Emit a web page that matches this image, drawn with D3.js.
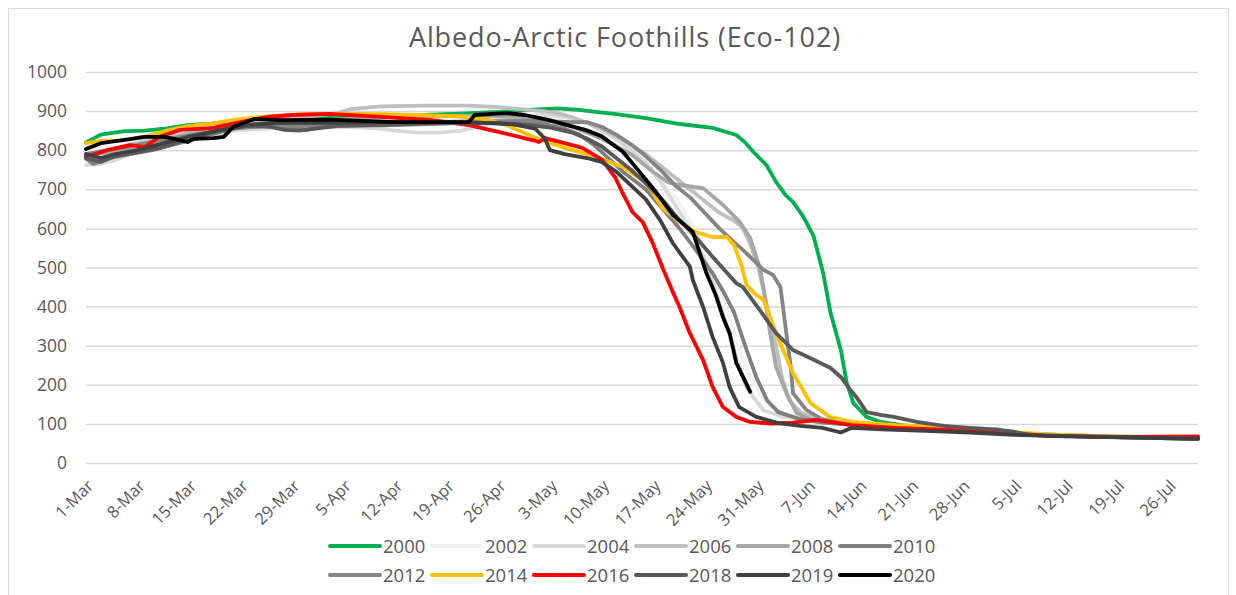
<!DOCTYPE html>
<html>
<head>
<meta charset="utf-8">
<script src="https://cdn.jsdelivr.net/npm/d3@7"></script>
<style>
  body { margin: 0; background: #fff; }
  svg { display: block; font-family: "Open Sans", sans-serif; }
</style>
</head>
<body>
<div id="vis"></div>
<script>
// values: [day offset from 1-Mar, albedo]
const years = ["2000", "2002", "2004", "2006", "2008", "2010", "2012", "2014", "2016", "2018", "2019", "2020"];
const lineColors = ["#00B050", "#F2F2F2", "#D9D9D9", "#BFBFBF", "#A6A6A6", "#7F7F7F", "#858585", "#FFC000", "#FF0000", "#595959", "#404040", "#000000"];

const s2000 = [[0,820],[2,840],[5,848],[8,850],[11,856],[14,865],[17,868],[21,876],[27,882],[34,885],[42,888],[50,893],[56,898],[60,903],[64,907],[67,903],[69.2,898],[72,892],[76,882],[80.6,867],[85.1,857],[88.3,839],[89.5,820],[90.6,796],[92.4,762],[93.7,719],[95,685],[96,668],[97.4,630],[98.8,580],[100.1,486],[101.1,384],[102.5,289],[103.3,205],[104.2,153],[106,118],[107.9,105],[111,96],[116,88],[122,82],[128,75],[135,70],[142,67],[151,63]];
const s2002 = [[0,800],[5,810],[10,825],[15,840],[20,855],[25,865],[30,870],[40,875],[50,880],[58,885],[62,880],[66,860],[70,830],[74,790],[77,740],[80,680],[82,620],[84,540],[85.5,470],[87,390],[88.5,300],[90,230],[91.5,175],[93,145],[95,125],[98,112],[102,104],[108,96],[115,88],[122,80],[130,72],[140,67],[151,63]];
const s2004 = [[0,762],[2,765],[4,775],[6,790],[9,805],[12,815],[16,835],[20,850],[24,855],[28,855],[32,858],[36,860],[40,855],[42,850],[45,845],[48,845],[51,850],[53,860],[55,870],[58,885],[62,890],[65,885],[68,870],[71,840],[74,800],[76,770],[78,720],[80,660],[82,600],[84,520],[85.5,440],[87,350],[88.5,260],[89.5,200],[90.6,169],[92,135],[94.7,118],[97.5,110],[101,102],[107,95],[114,88],[121,80],[128,72],[138,67],[151,63]];
const s2006 = [[0,790],[3,800],[6,815],[10,830],[14,845],[18,860],[22,870],[26,878],[30,885],[34,895],[36,905],[40,912],[46,914],[52,914],[56,910],[59,905],[62,900],[64,895],[66,885],[70,855],[73,825],[76,790],[78,760],[80,730],[82,700],[84,670],[86,640],[88,620],[89.2,600],[90.2,560],[91.3,500],[92.5,400],[93.7,300],[94.5,220],[95.5,160],[97,130],[99,115],[103,105],[109,96],[116,88],[123,80],[130,72],[140,67],[151,63]];
const s2008 = [[0,785],[3,795],[6,805],[10,820],[14,840],[18,855],[22,865],[26,870],[30,875],[36,880],[42,885],[48,888],[54,888],[58,885],[62,880],[66,860],[70,830],[74,790],[77,745],[79,718],[80.6,711],[83.8,703],[86.5,660],[88.8,616],[90.2,575],[91.5,499],[92,448],[92.9,332],[93.7,246],[95.1,179],[96.5,128],[98.4,110],[102,102],[108,95],[115,88],[122,80],[130,72],[140,66],[151,62]];
const s2010 = [[0,778],[1,765],[3,780],[6,790],[9,800],[12,815],[16,835],[20,855],[24,862],[28,858],[30,852],[32,858],[36,865],[42,868],[48,872],[54,875],[58,872],[62,868],[65,855],[67,840],[69.2,810],[72.9,745],[76,700],[78.3,650],[80.6,600],[82.8,545],[85.1,485],[86.5,440],[88,385],[89.5,300],[91,220],[92.5,160],[94,130],[97,112],[100,103],[106,95],[113,88],[120,80],[127,72],[135,68],[151,63]];
const s2012 = [[0,790],[3,800],[6,810],[10,825],[14,838],[18,850],[22,860],[26,862],[30,862],[36,862],[42,864],[48,868],[54,872],[58,875],[62,875],[66,872],[68,872],[70,860],[72,840],[74,815],[76,785],[78,750],[80,710],[82,680],[84,640],[86,600],[88,565],[89.2,545],[92,494],[93.3,481],[94.3,450],[95.1,332],[95.7,246],[96,179],[97.8,136],[100.1,110],[104,100],[110,93],[117,86],[124,78],[131,71],[140,66],[151,62]];
const s2014 = [[0,818],[2,824],[5,825],[8,835],[11,850],[14,862],[17,868],[21,880],[25,887],[30,893],[38,893],[45,890],[50,887],[54,880],[57,865],[60,840],[62,825],[64.7,808],[69.2,783],[72.9,757],[76,719],[78.3,652],[80.6,616],[82.7,591],[85,578],[87,578],[88,557],[89,506],[89.7,455],[91,430],[92,417],[93.7,332],[96,230],[98.4,153],[101,118],[104,105],[110,97],[119,90],[125,80],[132,72],[140,68],[151,64]];
const s2016 = [[0,783],[2.9,800],[6,813],[8,808],[10,835],[12.8,852],[17.3,857],[21,872],[24.7,885],[28,890],[33,893],[40,885],[47,877],[52,864],[56,847],[60.6,826],[61.5,821],[62.3,831],[65,818],[67.4,806],[70.1,775],[71.9,729],[72.8,693],[74.2,642],[75.6,616],[76.9,565],[78.3,499],[79.7,437],[80.6,399],[82,332],[83.8,263],[85.1,194],[86.5,143],[88.3,118],[90.2,105],[93,101],[96,103],[99,110],[101,105],[104,97],[110,90],[118,84],[125,78],[130,70],[140,67],[151,68]];
const s2018 = [[0,780],[2,770],[4,785],[7,795],[10,805],[14,830],[18,850],[22,862],[25,860],[27,852],[29,850],[31,855],[34,862],[40,865],[46,868],[52,870],[56,870],[60,865],[63,858],[66,845],[68,830],[70,810],[72,780],[74,750],[76,715],[78.3,673],[80.6,621],[82.8,578],[85.1,527],[88.3,460],[89.2,450],[91.5,391],[93.7,332],[96,289],[98.4,268],[101.1,243],[102.5,220],[103.8,187],[104.6,169],[106,130],[107.9,123],[109.7,118],[112.8,105],[116.5,95],[120,90],[124,85],[126,80],[128,72],[135,68],[151,62]];
const s2019 = [[0,790],[2,780],[4,790],[7,800],[10,815],[14,835],[18,850],[22,865],[26,870],[32,870],[40,872],[48,872],[54,870],[58,866],[61,855],[62.3,830],[63,800],[65,790],[68,780],[70,770],[72,745],[74,710],[76,675],[78,620],[79.7,562],[82,502],[82.4,468],[83.8,399],[85.1,322],[86.5,256],[87.4,194],[88.7,143],[91,118],[94,102],[97,95],[100,90],[102.5,78],[104,90],[108,86],[114,82],[120,78],[126,72],[133,68],[151,62]];
const s2020 = [[0,803],[2,818],[5,826],[8,834],[10.5,834],[12,829],[13.8,821],[14.6,829],[17.3,831],[18.7,834],[20,860],[22.8,880],[26.5,877],[33,878],[42,872],[52,872],[52.8,890],[57,895],[59.6,890],[62.9,877],[65,866],[67.8,852],[70,836],[72.9,796],[75.2,744],[77.4,693],[79.7,634],[82.4,591],[84.2,488],[85.5,430],[86.5,373],[87.4,332],[88.3,256],[90.2,182]];

const seriesData = [s2000, s2002, s2004, s2006, s2008, s2010, s2012, s2014, s2016, s2018, s2019, s2020];
const yTicks = d3.range(0, 1001, 100);
const xTickDays = d3.range(0, 152, 7);
const lastDay = 151;

const width = 1236, height = 595;
const plotLeft = 86, plotRight = 1198, plotTop = 72, plotBottom = 463;
const startDate = new Date(2021, 2, 1);
const fmt = d3.timeFormat("%-d-%b");

const svg = d3.select("#vis").append("svg")
  .attr("width", width)
  .attr("height", height);

svg.append("rect")
  .attr("x", 8.5).attr("y", 8.5)
  .attr("width", 1220).attr("height", 600)
  .attr("fill", "#fff")
  .attr("stroke", "#D9D9D9");

const x = d3.scaleLinear().domain([0, lastDay]).range([plotLeft, plotRight]);
const y = d3.scaleLinear().domain([0, 1000]).range([plotBottom, plotTop]);

// gridlines + y labels
const yAxis = d3.axisLeft(y).tickValues(yTicks).tickFormat(d3.format("d"))
  .tickSize(-(plotRight - plotLeft)).tickPadding(19);
svg.append("g")
  .attr("transform", `translate(${plotLeft},0)`)
  .call(yAxis)
  .call(g => g.select(".domain").remove())
  .call(g => g.selectAll(".tick line").attr("stroke", "#D9D9D9").attr("stroke-width", 1.5))
  .call(g => g.selectAll(".tick text").attr("fill", "#595959").attr("font-size", 17.5).attr("font-family", "Open Sans"));

// x labels, rotated
const xAxis = d3.axisBottom(x).tickValues(xTickDays).tickSize(0)
  .tickFormat(d => fmt(d3.timeDay.offset(startDate, d)));
svg.append("g")
  .attr("transform", `translate(0,${plotBottom})`)
  .call(xAxis)
  .call(g => g.select(".domain").remove())
  .call(g => g.selectAll(".tick text")
    .attr("fill", "#595959")
    .attr("font-size", 16.5)
    .attr("font-family", "Open Sans")
    .attr("text-anchor", "end")
    .attr("dy", null)
    .attr("y", 0)
    .attr("transform", "translate(8,24) rotate(-45)"));

const line = d3.line()
  .x(d => x(d[0]))
  .y(d => y(d[1]));

svg.append("g")
  .selectAll("path")
  .data(seriesData)
  .join("path")
  .attr("d", line)
  .attr("fill", "none")
  .attr("stroke", (d, i) => lineColors[i])
  .attr("stroke-width", 3.8)
  .attr("stroke-linejoin", "round")
  .attr("stroke-linecap", "round");

svg.append("text")
  .attr("x", 625)
  .attr("y", 47)
  .attr("text-anchor", "middle")
  .attr("fill", "#595959")
  .attr("font-size", 27)
  .attr("letter-spacing", 0.9)
  .text("Albedo-Arctic Foothills (Eco-102)");

// legend, two rows of six
const legend = svg.append("g")
  .selectAll("g")
  .data(years)
  .join("g")
  .attr("transform", (d, i) => `translate(${330 + (i % 6) * 102},${i < 6 ? 546 : 575})`);

legend.append("line")
  .attr("x1", 0).attr("x2", 50)
  .attr("stroke", (d, i) => lineColors[i])
  .attr("stroke-width", 4)
  .attr("stroke-linecap", "round");

legend.append("text")
  .attr("x", 53)
  .attr("y", 7)
  .attr("fill", "#595959")
  .attr("font-size", 18.5)
  .text(d => d);
</script>
</body>
</html>
